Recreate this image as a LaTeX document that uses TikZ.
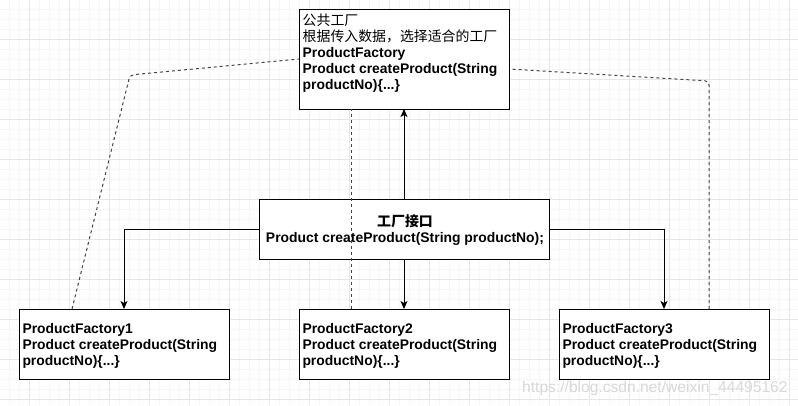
\documentclass[tikz,border=0pt]{standalone}
\usepackage{fontspec}
\setmainfont{Liberation Sans}
\newfontfamily\cjk{Noto Sans CJK SC}
\usetikzlibrary{arrows.meta,calc}
\definecolor{gmajor}{HTML}{E6E6E6}
\definecolor{gminor}{HTML}{F6F6F6}
\definecolor{dashc}{HTML}{444444}
\definecolor{wm}{HTML}{D8D8D8}
\begin{document}
\begin{tikzpicture}[x=1pt,y=-1pt,
  box/.style={draw=black,line width=1pt,fill=white,minimum width=210pt,minimum height=70pt,inner sep=0pt,outer sep=0pt,anchor=north west},
  txt/.style={inner sep=0pt,anchor=north west,align=left,font=\fontsize{13.9}{16}\selectfont\bfseries},
  conn/.style={line width=1pt,-{Stealth[length=8pt,width=7pt,inset=2pt]}},
  dep/.style={draw=dashc,line width=1pt,dash pattern=on 3pt off 3pt,rounded corners=4pt}]
\useasboundingbox (0,0) rectangle (798,405);
\fill[white] (0,0) rectangle (798,405);
% grid
\foreach \x in {9.5,19.5,...,798} \draw[gminor,line width=1pt] (\x,0) -- (\x,405);
\foreach \y in {9.5,19.5,...,405} \draw[gminor,line width=1pt] (0,\y) -- (798,\y);
\foreach \x in {29.5,69.5,...,798} \draw[gmajor,line width=1pt] (\x,0) -- (\x,405);
\foreach \y in {39.5,79.5,...,405} \draw[gmajor,line width=1pt] (0,\y) -- (798,\y);
% boxes
\node[box,minimum height=100pt] (top) at (299,9) {};
\node[box,minimum width=290pt,minimum height=60pt] (mid) at (259,199) {};
\node[box] (f1) at (19,309) {};
\node[box] (f2) at (299,309) {};
\node[box] (f3) at (559,309) {};
% texts
\node[txt] (topt) at (302.5,13.5) {{\cjk\mdseries 公共工厂}\\{\cjk\mdseries 根据传入数据，选择适合的工厂}\\ProductFactory\\Product createProduct(String\\productNo)\{...\}};
\node[txt,anchor=north,align=center] (midt) at (405,214.5) {{\cjk 工厂接口}\\Product createProduct(String productNo);};
\node[txt] (f1t) at (22.3,322.8) {ProductFactory1\\Product createProduct(String\\productNo)\{...\}};
\node[txt] (f2t) at (302.3,322.8) {ProductFactory2\\Product createProduct(String\\productNo)\{...\}};
\node[txt] (f3t) at (562.3,322.8) {ProductFactory3\\Product createProduct(String\\productNo)\{...\}};
% connectors
\coordinate (a1) at (124,309);
\coordinate (a3) at (664,309);
\draw[conn] (mid.west) -| (a1);
\draw[conn] (mid.east) -| (a3);
\draw[conn] (mid.south) -- (f2.north);
\draw[conn] (mid.north) -- (top.south);
% dashed
\coordinate (d1s) at (72,309);
\coordinate (d1c) at (130,75);
\draw[dep] (d1s) -- (d1c) -- (top.west);
\coordinate (d3s) at (709,309);
\coordinate (d3c) at (709,81);
\coordinate (d3e) at (509,69);
\draw[dep] (d3s) -- (d3c) -- (d3e);
\coordinate (d2s) at (351,309);
\coordinate (d2e) at (351,109);
\draw[dep] (d2s) -- (d2e);
% watermark
\node[inner sep=0pt,anchor=base west,text=wm,font=\fontsize{15.6}{18}\selectfont] (wmk) at (522,392) {https://blog.csdn.net/weixin\_44495162};
\end{tikzpicture}
\end{document}
